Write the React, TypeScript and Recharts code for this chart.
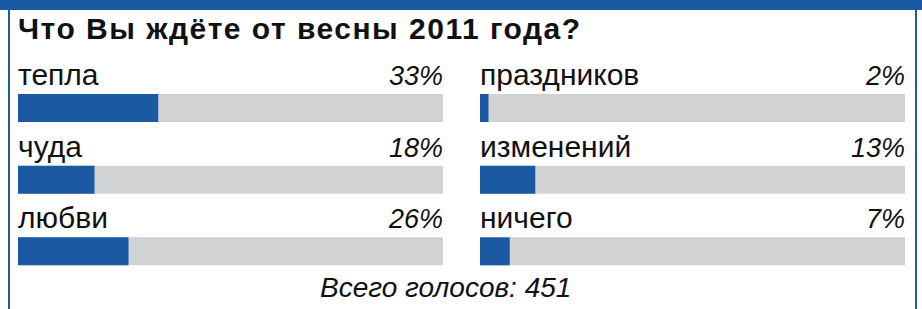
import { Bar, BarChart, LabelList, XAxis, YAxis } from "recharts";

const TITLE = "Что Вы ждёте от весны 2011 года?";
const leftLabels = ["тепла", "чуда", "любви"];
const leftValues = [33, 18, 26];
const rightLabels = ["праздников", "изменений", "ничего"];
const rightValues = [2, 13, 7];
const totalVotes = 451;

const BLUE = "#1b5aa2";
const GREY = "#d1d2d4";
const FONT = "'Liberation Sans', Arial, sans-serif";
const PLOT_W = 425;

function makeLabel(values: number[]) {
  return (props: any) => {
    const { x, y, value, index } = props;
    return (
      <g>
        <text x={x} y={y - 9} fontSize={30} fontFamily={FONT} fill="#111">
          {value}
        </text>
        <text
          x={x + PLOT_W}
          y={y - 9}
          fontSize={27}
          fontStyle="italic"
          fontFamily={FONT}
          textAnchor="end"
          fill="#111"
        >
          {values[index]}%
        </text>
      </g>
    );
  };
}

function Column({ labels, values, left }: { labels: string[]; values: number[]; left: number }) {
  const data = labels.map((name, i) => ({ name, value: values[i] }));
  return (
    <div style={{ position: "absolute", left, top: 40 }}>
      <BarChart
        width={PLOT_W}
        height={247}
        data={data}
        layout="vertical"
        margin={{ top: 32, right: 0, bottom: 0, left: 0 }}
      >
        <XAxis type="number" domain={[0, 100]} hide />
        <YAxis type="category" dataKey="name" hide />
        <Bar
          dataKey="value"
          fill={BLUE}
          barSize={28}
          background={{ fill: GREY }}
          isAnimationActive={false}
        >
          <LabelList dataKey="name" content={makeLabel(values)} />
        </Bar>
      </BarChart>
    </div>
  );
}

export default function App() {
  return (
    <div
      style={{
        position: "absolute",
        left: 0,
        top: 0,
        width: 922,
        height: 309,
        background: "#fff",
        overflow: "hidden",
        fontFamily: FONT,
      }}
    >
      <div style={{ position: "absolute", left: 0, top: 0, width: 922, height: 10, background: BLUE }} />
      <div style={{ position: "absolute", left: 8, top: 0, width: 2, height: 309, background: BLUE }} />
      <div style={{ position: "absolute", left: 915, top: 0, width: 2, height: 309, background: BLUE }} />
      <div
        style={{
          position: "absolute",
          left: 18,
          top: 14,
          fontSize: 30,
          lineHeight: 1,
          fontWeight: "bold",
          letterSpacing: 1.5,
          color: "#111",
          whiteSpace: "nowrap",
        }}
      >
        {TITLE}
      </div>
      <Column labels={leftLabels} values={leftValues} left={18} />
      <Column labels={rightLabels} values={rightValues} left={480} />
      <div
        style={{
          position: "absolute",
          left: 320,
          top: 274,
          fontSize: 28,
          lineHeight: 1,
          fontStyle: "italic",
          color: "#111",
          whiteSpace: "nowrap",
        }}
      >
        Всего голосов: {totalVotes}
      </div>
    </div>
  );
}
